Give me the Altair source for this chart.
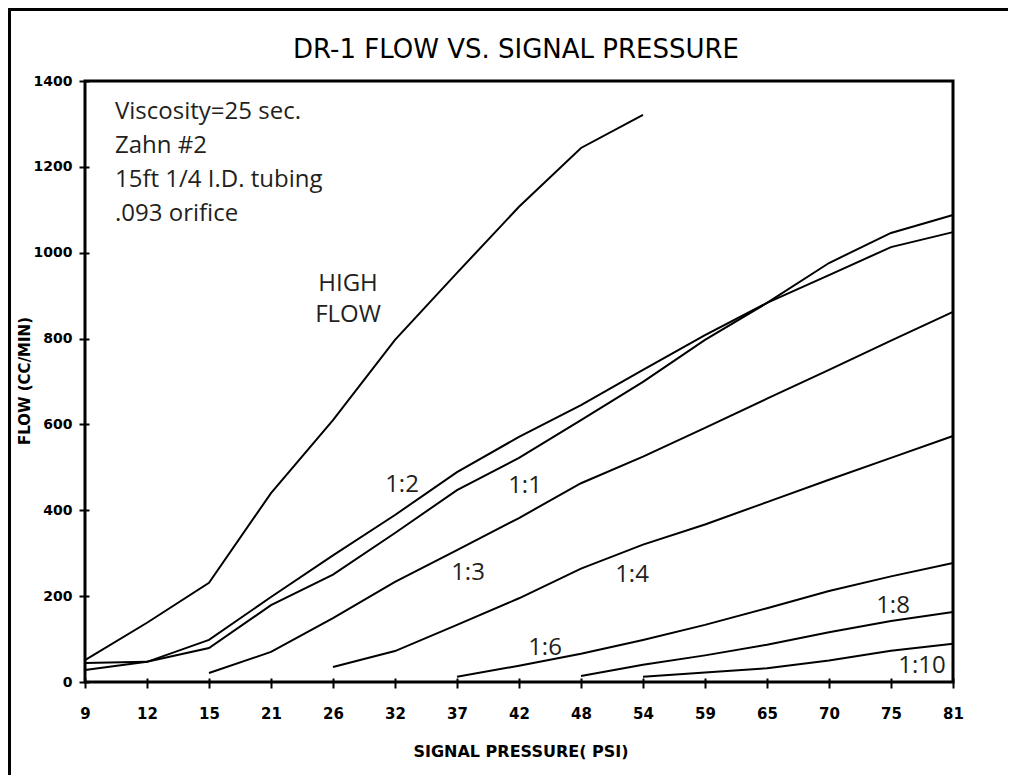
import altair as alt
import pandas as pd

# ---- data ----
x_labels = ["9", "12", "15", "21", "26", "32", "37", "42", "48", "54", "59", "65", "70", "75", "81"]
y_ticks = [0, 200, 400, 600, 800, 1000, 1200, 1400]

high_flow = [51, 138, 231, 440, 610, 797, 953, 1107, 1244, 1321]          # from 9
ratio_1_2 = [44, 47, 98, 198, 295, 389, 489, 571, 645, 727, 808, 883, 948, 1013, 1048]  # from 9
ratio_1_1 = [28, 47, 79, 179, 250, 347, 447, 522, 610, 699, 797, 883, 976, 1046, 1088]  # from 9
ratio_1_3 = [21, 70, 149, 233, 307, 382, 463, 525, 592, 660, 727, 795, 862]  # from 15
ratio_1_4 = [35, 72, 133, 195, 264, 320, 367, 419, 471, 522, 573]            # from 26
ratio_1_6 = [12, 38, 66, 98, 133, 172, 212, 246, 277]                        # from 37
ratio_1_8 = [14, 40, 62, 87, 116, 142, 163]                                  # from 48
ratio_1_10 = [12, 22, 32, 50, 73, 89]                                        # from 54

series = [
    ("HIGH FLOW", "9", high_flow),
    ("1:2", "9", ratio_1_2),
    ("1:1", "9", ratio_1_1),
    ("1:3", "15", ratio_1_3),
    ("1:4", "26", ratio_1_4),
    ("1:6", "37", ratio_1_6),
    ("1:8", "48", ratio_1_8),
    ("1:10", "54", ratio_1_10),
]

rows = []
for name, start, vals in series:
    s = x_labels.index(start)
    for i, v in enumerate(vals):
        rows.append({"series": name, "psi": x_labels[s + i], "flow": v})
df = pd.DataFrame(rows)

W, H = 868, 601
one = alt.Data(values=[{}])

lines = alt.Chart(df).mark_line(color="black", strokeWidth=2).encode(
    x=alt.X("psi:O", sort=x_labels,
            scale=alt.Scale(type="point", padding=0),
            axis=alt.Axis(title=None, labelAngle=0, offset=-4, tickSize=10, tickWidth=2,
                          tickColor="black", domain=False, grid=False,
                          labelFont="DejaVu Sans", labelFontWeight="bold", labelFontSize=15,
                          labelColor="black", labelPadding=18)),
    y=alt.Y("flow:Q", scale=alt.Scale(domain=[0, 1400], nice=False, zero=True),
            axis=alt.Axis(title=None, values=y_ticks, format="d", offset=-4, tickSize=10,
                          tickWidth=2, tickColor="black", domain=False, grid=False,
                          labelFont="DejaVu Sans", labelFontWeight="bold", labelFontSize=14,
                          labelColor="black", labelPadding=7)),
    detail="series:N",
)


def txt(text, x, y, size=24, font="Open Sans", weight="normal", align="left",
        color="#231f20", angle=0, baseline="alphabetic"):
    kw = dict(font=font, fontSize=size, fontWeight=weight, align=align,
              color=color, baseline=baseline)
    if angle:
        kw["angle"] = angle
    return alt.Chart(one).mark_text(**kw).encode(
        x=alt.value(x), y=alt.value(y), text=alt.value(text))


layers = [lines]
# Titles
layers.append(txt("DR-1 FLOW VS. SIGNAL PRESSURE", 431, -23, size=26, font="DejaVu Sans",
                  align="center", color="black"))
layers.append(txt("SIGNAL PRESSURE( PSI)", 436, 676, size=16, font="DejaVu Sans",
                  weight="bold", align="center", color="black"))
layers.append(txt("FLOW (CC/MIN)", -60, 300, size=15, font="DejaVu Sans", weight="bold",
                  align="center", color="black", angle=270, baseline="middle"))
# Notes
for i, line in enumerate(["Viscosity=25 sec.", "Zahn #2", "15ft 1/4 I.D. tubing", ".093 orifice"]):
    layers.append(txt(line, 30, 38 + 34 * i))
# Series labels
layers.append(txt("HIGH", 263, 210, align="center"))
layers.append(txt("FLOW", 263, 241, align="center"))
for lab, x, y in [("1:2", 317, 411), ("1:1", 440, 412), ("1:3", 383, 499), ("1:4", 547, 501),
                  ("1:6", 460, 574), ("1:8", 808, 532), ("1:10", 837, 592)]:
    layers.append(txt(lab, x, y, align="center"))

# Outer frame (left and top)
layers.append(alt.Chart(one).mark_rule(color="black", strokeWidth=3).encode(
    x=alt.value(-75.5), y=alt.value(-74), y2=alt.value(720)))
layers.append(alt.Chart(one).mark_rule(color="black", strokeWidth=3).encode(
    x=alt.value(-77), x2=alt.value(940), y=alt.value(-71.5)))

chart = alt.layer(*layers).properties(
    width=W, height=H,
    autosize=alt.AutoSizeParams(type="none"),
    padding={"left": 77, "top": 73, "right": 55, "bottom": 93},
    background="white",
).configure_view(stroke="black", strokeWidth=3)

chart.save("out.html", embed_options={"renderer": "svg", "actions": False})
